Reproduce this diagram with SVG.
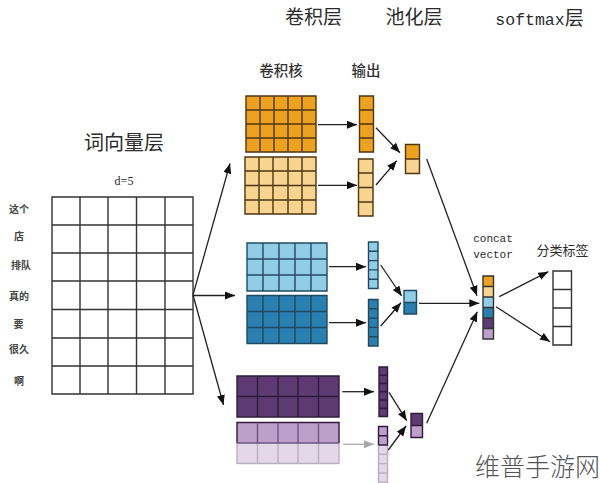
<svg xmlns="http://www.w3.org/2000/svg" width="600" height="483" viewBox="0 0 600 483">
<style>
text{font-family:"Noto Sans CJK SC","Liberation Serif",serif;fill:#2b2b2b;text-anchor:middle}
.m{font-family:"Liberation Mono","Noto Sans CJK SC",monospace}
.h{font-size:19px}.s{font-size:14.500px;font-weight:500;fill:#333}.w{font-size:10px;font-weight:700;fill:#444}
.g{stroke-width:1.4;fill:none}
.k{stroke:#333}.o{stroke:#4f3510}.b{stroke:#1f4a63}.p{stroke:#2e1b3c}.q{stroke:#b9b0be}
.c path{fill:none;stroke:#222;stroke-width:1.3;marker-end:url(#a)}
.c path.f{stroke:#a9a9a9;marker-end:url(#f)}
</style>
<defs>
<marker id="a" markerUnits="userSpaceOnUse" markerWidth="11" markerHeight="9" refX="10" refY="4" orient="auto"><path d="M0 0L10 4L0 8Z" fill="#111"/></marker>
<marker id="f" markerUnits="userSpaceOnUse" markerWidth="11" markerHeight="9" refX="10" refY="4" orient="auto"><path d="M0 0L10 4L0 8Z" fill="#a9a9a9"/></marker>
</defs>
<rect width="600" height="483" fill="#fff"/>
<g id="titles">
<text class="h" x="313.500" y="24">卷积层</text>
<text class="h" x="414" y="24">池化层</text>
<text x="539.500" y="25" font-size="16.500" class="m">softmax<tspan font-size="19" style="font-family:'Noto Sans CJK SC',sans-serif">层</tspan></text>
<text class="s" x="281" y="76">卷积核</text>
<text class="s" x="366" y="76">输出</text>
<text x="124" y="150" font-size="20">词向量层</text>
<text x="124" y="185" font-size="12" style="font-family:'Liberation Serif',serif">d=5</text>
<text x="493" y="242" font-size="11" class="m">concat</text>
<text x="493" y="258" font-size="11" class="m">vector</text>
<text x="562.500" y="255" font-size="13">分类标签</text>
</g>
<g id="words">
<text class="w" x="19" y="213">这个</text>
<text class="w" x="19" y="240">店</text>
<text class="w" x="21" y="269">排队</text>
<text class="w" x="19" y="300">真的</text>
<text class="w" x="18.500" y="328">要</text>
<text class="w" x="19" y="353">很久</text>
<text class="w" x="19" y="385">啊</text>
</g>
<g id="embedding"><rect x="52" y="197" width="141" height="197" fill="#fff"/><path class="g k" d="M52 197H193V394H52ZM80 197V394M108 197V394M136.500 197V394M165 197V394M52 225H193M52 253H193M52 281H193M52 309.500H193M52 338H193M52 366H193"/></g>
<g id="kernel-orange"><rect x="246" y="96" width="70" height="56" fill="#eca11f"/><path class="g o" d="M246 96H316V152H246ZM260 96V152M274 96V152M288 96V152M302 96V152M246 110H316M246 124H316M246 138H316"/></g>
<g id="kernel-orange-light"><rect x="245" y="157" width="71" height="57" fill="#f7d48f"/><path class="g o" d="M245 157H316V214H245ZM259 157V214M273 157V214M288 157V214M302 157V214M245 171H316M245 185.500H316M245 200H316"/></g>
<g id="out-orange"><rect x="359.500" y="96" width="14" height="56" fill="#eca11f"/><path class="g o" d="M359.500 96H373.500V152H359.500ZM359.500 110H373.500M359.500 124H373.500M359.500 138H373.500"/></g>
<g id="out-orange-light"><rect x="358.500" y="159" width="14.500" height="57" fill="#f7d48f"/><path class="g o" d="M358.500 159H373V216H358.500ZM358.500 173H373M358.500 187.500H373M358.500 202H373"/></g>
<g id="pool-orange"><rect x="405.500" y="144.500" width="14" height="14.500" fill="#eca11f"/><rect x="405.500" y="159" width="14" height="14.500" fill="#f7d48f"/><path class="g o" d="M405.500 144.500H419.500V173.500H405.500ZM405.500 159H419.500"/></g>
<g id="kernel-blue"><rect x="247" y="243" width="80" height="48" fill="#92cde6"/><path class="g b" d="M247 243H327V291H247ZM263 243V291M279 243V291M295 243V291M311 243V291M247 259H327M247 275H327"/></g>
<g id="kernel-blue-dark"><rect x="247" y="295.500" width="80" height="48" fill="#2b7fb0"/><path class="g b" d="M247 295.500H327V343.500H247ZM263 295.500V343.500M279 295.500V343.500M295 295.500V343.500M311 295.500V343.500M247 311.500H327M247 327.500H327"/></g>
<g id="out-blue"><rect x="368.500" y="242" width="9.500" height="46.500" fill="#92cde6"/><path class="g b" d="M368.500 242H378V288.500H368.500ZM368.500 251.300H378M368.500 260.600H378M368.500 269.900H378M368.500 279.200H378"/></g>
<g id="out-blue-dark"><rect x="368.500" y="299.500" width="9.500" height="46.500" fill="#2b7fb0"/><path class="g b" d="M368.500 299.500H378V346H368.500ZM368.500 308.800H378M368.500 318.100H378M368.500 327.400H378M368.500 336.700H378"/></g>
<g id="pool-blue"><rect x="404" y="290.500" width="12.500" height="12" fill="#92cde6"/><rect x="404" y="302.500" width="12.500" height="11.500" fill="#2b7fb0"/><path class="g b" d="M404 290.500H416.500V314H404ZM404 302.500H416.500"/></g>
<g id="kernel-purple"><rect x="237" y="376" width="102" height="41" fill="#5d3a72"/><path class="g p" d="M237 376H339V417H237ZM257.500 376V417M278 376V417M298 376V417M318.500 376V417M237 396.500H339"/></g>
<g id="kernel-purple-light"><rect x="237" y="422.500" width="102" height="20.500" fill="#bd9fcb"/><rect x="237" y="443" width="102" height="20.500" fill="#e3d7e9"/><path class="g q" d="M237 443V463.500H339V443M257.500 443V463.500M278 443V463.500M298 443V463.500M318.500 443V463.500"/><path class="g p" d="M237 443V422.500H339V443"/><path class="g" stroke="#6d5580" d="M237 443H339M257.500 422.500V443M278 422.500V443M298 422.500V443M318.500 422.500V443"/></g>
<g id="out-purple"><rect x="379" y="367" width="8.500" height="49.500" fill="#5d3a72"/><path class="g p" d="M379 367H387.500V416.500H379ZM379 375.200H387.500M379 383.500H387.500M379 391.700H387.500M379 400H387.500M379 408.200H387.500"/></g>
<g id="out-purple-light"><rect x="378.500" y="426.500" width="9" height="18.500" fill="#bd9fcb"/><rect x="378.500" y="445" width="9" height="37.500" fill="#e3d7e9"/><path class="g q" d="M378.500 445V482.500H387.500V445M378.500 454.300H387.500M378.500 463.600H387.500M378.500 473H387.500"/><path class="g p" d="M378.500 445V426.500H387.500V445H378.500M378.500 435.700H387.500"/></g>
<g id="pool-purple"><rect x="411" y="413.500" width="11.500" height="12" fill="#5d3a72"/><rect x="411" y="425.500" width="11.500" height="12" fill="#bd9fcb"/><path class="g p" d="M411 413.500H422.500V437.500H411ZM411 425.500H422.500"/></g>
<g id="concat"><rect x="483" y="276" width="10.500" height="10.500" fill="#eca11f"/><rect x="483" y="286.500" width="10.500" height="10.500" fill="#f7d48f"/><rect x="483" y="297" width="10.500" height="10.500" fill="#92cde6"/><rect x="483" y="307.500" width="10.500" height="10.500" fill="#2b7fb0"/><rect x="483" y="318" width="10.500" height="10.500" fill="#5d3a72"/><rect x="483" y="328.500" width="10.500" height="10.500" fill="#bd9fcb"/><path class="g k" d="M483 276H493.500V339H483ZM483 286.500H493.500M483 297H493.500M483 307.500H493.500M483 318H493.500M483 328.500H493.500"/></g>
<g id="labels"><rect x="553" y="271" width="18.500" height="74" fill="#fff"/><path class="g k" d="M553 271H571.500V345H553ZM553 289.500H571.500M553 308H571.500M553 326.500H571.500"/></g>
<g id="connectors" class="c">
<path d="M193 295L230 163.500"/><path d="M193 295.500H235"/><path d="M193 295L223.500 405"/>
<path d="M318 124.700H357"/><path d="M318 185.300H357"/><path d="M376 127.700L400 152.700"/><path d="M376 185L396.700 160.700"/>
<path d="M329 266.700H366"/><path d="M329 322.700H366"/><path d="M380.700 265L401.700 296"/><path d="M380.700 326L401 302.700"/>
<path d="M342.300 391.700H374"/><path class="f" d="M343.300 444.300H374"/><path d="M389 392.300L406.700 420.700"/><path d="M388.300 450L406 426"/>
<path d="M426.700 159L477 295.700"/><path d="M419 303.300H479.300"/><path d="M426.700 423.300L477.300 311.700"/>
<path d="M499.300 296.700L548.300 271.700"/><path d="M496 306.700L550 341.700"/>
</g>
<g id="watermark"><text x="537.500" y="476" font-size="25" font-weight="300" style="fill:#555">维普手游网</text></g>
</svg>
